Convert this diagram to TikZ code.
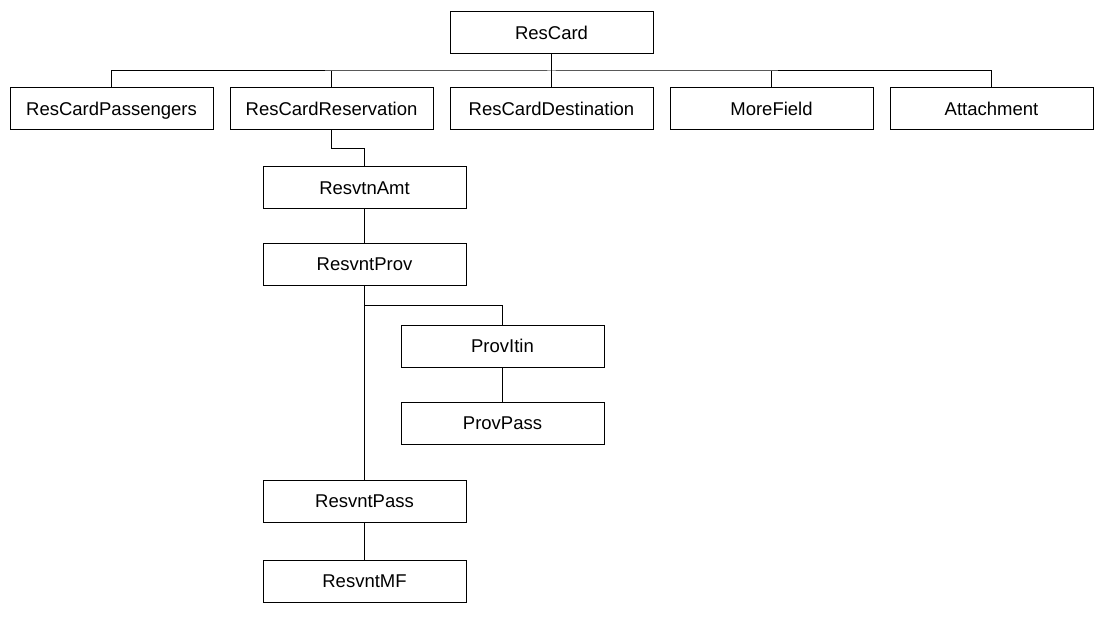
\documentclass[tikz,border=0pt]{standalone}
\usepackage{fontspec}
\setmainfont{Liberation Sans}
\usepackage{tikz}
\usetikzlibrary {
  positioning,
  calc,
}
\tikzset{
  card/.style = {
    rectangle,
    draw = black,
    line width = 1pt,
    minimum width = 203pt,
    minimum height = 42pt,
    inner sep = 0pt,
    outer sep = 0pt,
    text height = 16.6pt,
    text depth = 4pt,
    font = \fontsize{18.5}{22}\selectfont
  },
  link/.style = {
    -,
    line width = 1pt
  },
}

\begin{document}
\begin{tikzpicture}[x = 1pt, y = 1pt]
  \useasboundingbox (0,0) rectangle (1102,-617);
  \node[card] (RC) at (551.5,-33) {ResCard};
  \node[card, below = 34pt of RC] (D) {ResCardDestination};
  \node[card, left = 17pt of D] (R) {ResCardReservation};
  \node[card, left = 17pt of R] (P) {ResCardPassengers};
  \node[card, right = 17pt of D] (M) {MoreField};
  \node[card, right = 17pt of M] (A) {Attachment};
  \node[card, below = 37pt of R, xshift = 33pt] (Amt) {ResvtnAmt};
  \node[card, below = 34.5pt of Amt] (Prov) {ResvntProv};
  \node[card, below = 39.5pt of Prov, xshift = 138pt] (Itin) {ProvItin};
  \node[card, below = 35pt of Itin] (PPass) {ProvPass};
  \node[card, below = 194.5pt of Prov] (Pass) {ResvntPass};
  \node[card, below = 38.5pt of Pass] (MF) {ResvntMF};
  % bus under the root
  \coordinate (bus) at ($(RC.south)!0.5!(D.north)$);
  \draw[link] (RC.south) -- (D.north);
  \draw[link] (P.north) |- (bus) -| (A.north);
  \foreach \n in {R, M}
    \draw[link] (\n.north) -- (\n.north |- bus);
  % reservation branch
  \coordinate (step) at ($(R.south)!0.5!(Amt.north)$);
  \draw[link] (R.south) |- (step) -| (Amt.north);
  \draw[link] (Amt.south) -- (Prov.north);
  \coordinate (fork) at ($(Prov.south)!0.5!(Itin.north)$);
  \draw[link] (Prov.south) -- (Pass.north);
  \draw[link] (Prov.south |- fork) -| (Itin.north);
  \draw[link] (Itin.south) -- (PPass.north);
  \draw[link] (Pass.south) -- (MF.north);
\end{tikzpicture}
\end{document}
